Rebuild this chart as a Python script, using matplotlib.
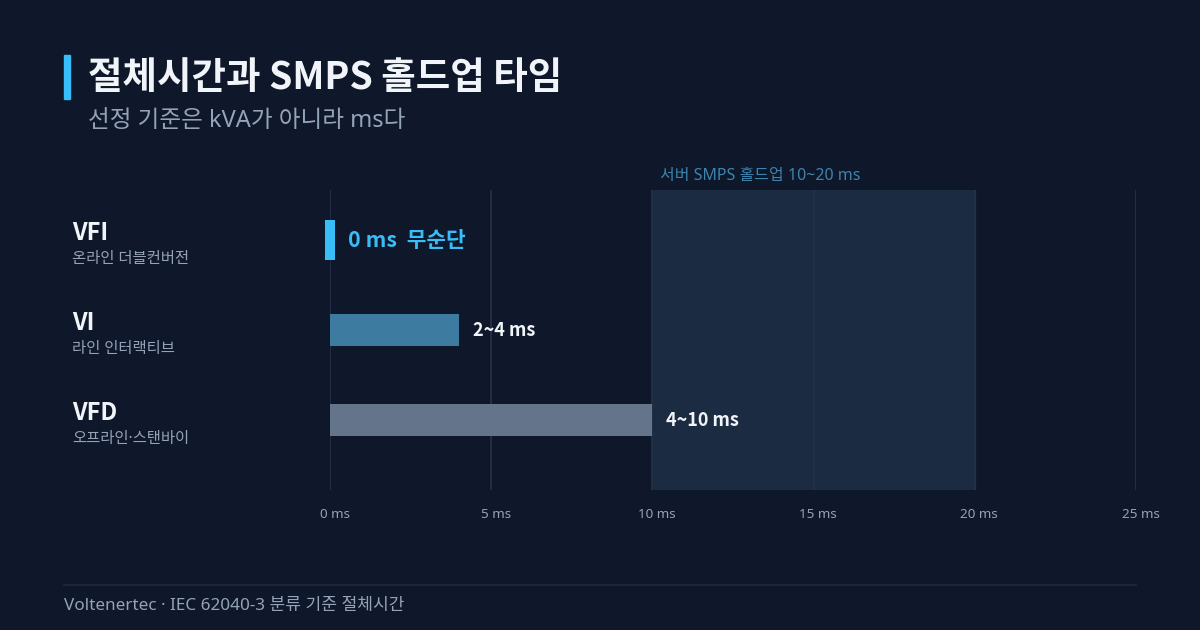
import matplotlib
matplotlib.use('Agg')
import matplotlib.pyplot as plt
from matplotlib.transforms import ScaledTranslation

plt.rcParams['font.family'] = ['Noto Sans', 'Noto Sans CJK KR', 'DejaVu Sans']
BOLD_FAM = ['Noto Sans CJK KR', 'DejaVu Sans']

# data
modes = ['VFI', 'VI', 'VFD']
mode_desc = ['온라인 더블컨버전', '라인 인터랙티브', '오프라인·스탠바이']
transfer_ms = [0, 4, 10]
value_labels = ['0 ms  무순단', '2~4 ms', '4~10 ms']
smps_hold = (10, 20)
ticks = [0, 5, 10, 15, 20, 25]
tick_labels = ['0 ms', '5 ms', '10 ms', '15 ms', '20 ms', '25 ms']

BG = '#0f172a'
GRID = '#263247'
MUTED = '#94a3b8'
bar_colors = ['#38bdf8', '#3d7ba0', '#64748b']
label_colors = ['#38bdf8', '#f1f5f9', '#f1f5f9']

fig = plt.figure(figsize=(12, 6.3), dpi=100, facecolor=BG)
ax = fig.add_axes([0.275, 0.2222, 0.6717, 0.4762], facecolor=BG)

ax.set_xlim(0, 25)
ax.set_ylim(2.778, -0.556)

# SMPS hold-up band
ax.axvspan(smps_hold[0], smps_hold[1], color='#1b2b42', zorder=0)
for t in ticks:
    ax.axvline(t, color=GRID, linewidth=1.2, zorder=1)

for i, (v, c) in enumerate(zip(transfer_ms, bar_colors)):
    if v == 0:
        # zero-time marker
        ax.barh(i, 0.3, left=-0.15, height=0.444, color=c, zorder=3, clip_on=False)
        ax.text(0.55, i, value_labels[i], color=label_colors[i], fontsize=15.4,
                fontweight='bold', family=BOLD_FAM, va='center', ha='left', zorder=4)
    else:
        ax.barh(i, v, height=0.356, color=c, zorder=3)
        ax.text(v + 0.42, i, value_labels[i], color=label_colors[i], fontsize=13,
                fontweight='bold', family=BOLD_FAM, va='center', ha='left', zorder=4)

ax.text(smps_hold[0] + 0.25, -0.62, '서버 SMPS 홀드업 10~20 ms', color='#3d84ad',
        fontsize=11.5, va='bottom', ha='left')

ax.set_xticks(ticks)
ax.set_xticklabels(tick_labels, color=MUTED, fontsize=9.7)
ax.tick_params(axis='x', length=0, pad=13)
for lab in ax.get_xticklabels():
    lab.set_transform(lab.get_transform() + ScaledTranslation(0.045, 0, fig.dpi_scale_trans))
ax.set_yticks([])
for s in ax.spines.values():
    s.set_visible(False)

# row labels
for i, (m, d) in enumerate(zip(modes, mode_desc)):
    y = 1 - (240 + 90 * i) / 630
    fig.text(72 / 1200, y + 0.011, m, color='#f1f5f9', fontsize=17, fontweight='bold',
             family=BOLD_FAM, va='center', ha='left')
    fig.text(72 / 1200, y - 0.030, d, color=MUTED, fontsize=11.1, va='center', ha='left')

# title block
fig.patches.append(plt.Rectangle((64 / 1200, 1 - 99 / 630), 6 / 1200, 44 / 630,
                                 transform=fig.transFigure, color='#38bdf8'))
fig.text(88 / 1200, 1 - 78 / 630, '절체시간과 SMPS 홀드업 타임', color='#f1f5f9',
         fontsize=27, fontweight='bold', family=BOLD_FAM, va='center', ha='left')
fig.text(88 / 1200, 1 - 121 / 630, '선정 기준은 kVA가 아니라 ms다', color=MUTED,
         fontsize=17, va='center', ha='left')

# footer
fig.add_artist(plt.Line2D([64 / 1200, 1136 / 1200], [1 - 585 / 630, 1 - 585 / 630],
                          color='#1f2a3c', linewidth=1.2, transform=fig.transFigure))
fig.text(64 / 1200, 1 - 606 / 630, 'Voltenertec · IEC 62040-3 분류 기준 절체시간',
         color=MUTED, fontsize=12.3, va='center', ha='left')

fig.savefig('out.png', dpi=100, facecolor=BG)
